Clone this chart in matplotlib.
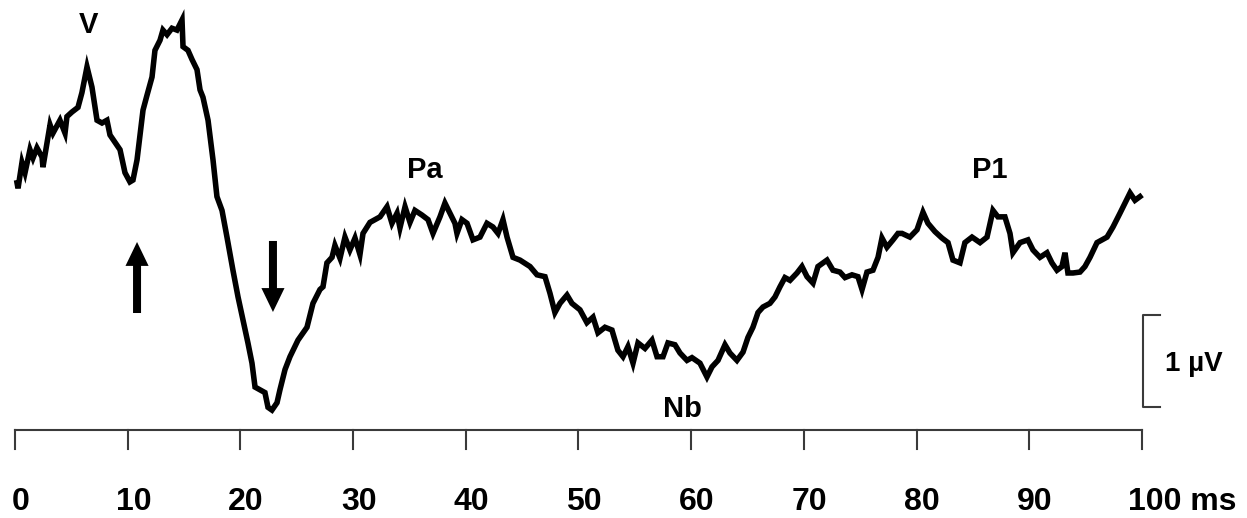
import numpy as np
import matplotlib
matplotlib.use("Agg")
import matplotlib.pyplot as plt
from matplotlib.patches import FancyArrow

plt.rcParams['font.family'] = ['Liberation Sans', 'DejaVu Sans']
plt.rcParams['font.weight'] = 'bold'

# evoked response, latency (ms) vs amplitude (uV)
time_ms = [
    0.18, 0.27, 0.62, 0.89, 1.33, 1.60, 1.95, 2.40, 2.48, 2.84, 3.11, 3.37, 3.99, 4.44, 4.61,
    5.06, 5.59, 5.94, 6.39, 6.83, 7.28, 7.72, 8.16, 8.43, 8.87, 9.32, 9.76, 10.20, 10.47, 10.83,
    11.36, 11.71, 12.16, 12.42, 12.87, 13.13, 13.49, 13.93, 14.37, 14.82, 14.91, 15.35, 15.71,
    16.15, 16.42, 16.68, 17.13, 17.57, 17.92, 18.37, 18.81, 19.34, 19.79, 20.23, 20.67, 21.03,
    21.30, 21.74, 22.18, 22.45, 22.80, 23.25, 23.51, 23.96, 24.40, 25.11, 25.91, 26.44, 27.06,
    27.33, 27.68, 28.13, 28.39, 28.84, 29.28, 29.72, 30.17, 30.61, 30.88, 31.50, 32.39, 33.01,
    33.45, 33.90, 34.16, 34.61, 35.05, 35.49, 36.11, 36.65, 37.09, 37.71, 38.15, 38.60, 39.04,
    39.22, 39.66, 40.11, 40.64, 41.26, 41.88, 42.41, 42.86, 43.30, 43.66, 44.19, 44.81, 45.70,
    46.32, 47.03, 47.47, 47.91, 48.36, 48.98, 49.42, 50.13, 50.75, 51.29, 51.73, 52.35, 52.97,
    53.50, 53.95, 54.39, 54.84, 55.28, 55.90, 56.52, 56.97, 57.50, 57.94, 58.56, 59.01, 59.63,
    60.07, 60.78, 61.40, 61.85, 62.38, 63.00, 63.44, 64.06, 64.60, 65.04, 65.48, 65.93, 66.37,
    66.99, 67.44, 67.88, 68.32, 68.77, 69.39, 69.83, 70.28, 70.81, 71.25, 72.05, 72.58, 73.20,
    73.65, 74.27, 74.80, 75.16, 75.60, 76.13, 76.58, 76.93, 77.37, 77.91, 78.35, 78.71, 79.41,
    80.04, 80.57, 81.01, 81.63, 82.25, 82.79, 83.23, 83.85, 84.29, 84.92, 85.63, 86.25, 86.78,
    87.22, 87.84, 88.29, 88.55, 89.18, 89.88, 90.33, 90.95, 91.57, 92.01, 92.46, 92.90, 93.17,
    93.43, 93.88, 94.50, 94.94, 95.39, 96.01, 96.90, 97.43, 98.05, 98.49, 98.94, 99.38, 99.82,
]
amp_uv = [
    0.73, 0.67, 0.95, 0.84, 1.09, 1.00, 1.11, 1.01, 0.90, 1.16, 1.36, 1.27, 1.41, 1.27, 1.45,
    1.50, 1.55, 1.71, 1.99, 1.77, 1.41, 1.38, 1.41, 1.25, 1.17, 1.09, 0.84, 0.74, 0.76, 0.98,
    1.52, 1.68, 1.88, 2.17, 2.28, 2.39, 2.34, 2.41, 2.39, 2.50, 2.21, 2.17, 2.07,
    1.96, 1.74, 1.66, 1.41, 0.98, 0.58, 0.43, 0.14, -0.22, -0.51, -0.76, -1.01, -1.23,
    -1.49, -1.52, -1.55, -1.71, -1.74, -1.66, -1.52, -1.30, -1.16, -0.98, -0.84, -0.58, -0.43,
    -0.40, -0.14, -0.08, 0.05, -0.09, 0.14, 0.00, 0.13, -0.05, 0.18, 0.30, 0.36, 0.47,
    0.29, 0.40, 0.24, 0.47, 0.30, 0.43, 0.38, 0.33, 0.18, 0.36, 0.51, 0.40, 0.29,
    0.18, 0.33, 0.29, 0.11, 0.14, 0.29, 0.25, 0.18, 0.33, 0.14, -0.08, -0.11, -0.18,
    -0.27, -0.29, -0.47, -0.68, -0.58, -0.49, -0.58, -0.65, -0.79, -0.73, -0.90, -0.84, -0.87,
    -1.09, -1.16, -1.05, -1.23, -1.01, -1.07, -0.98, -1.16, -1.16, -1.01, -1.03, -1.12, -1.20,
    -1.17, -1.23, -1.38, -1.27, -1.20, -1.03, -1.12, -1.20, -1.11, -0.95, -0.84, -0.68, -0.62,
    -0.58, -0.51, -0.40, -0.30, -0.33, -0.25, -0.18, -0.29, -0.36, -0.18, -0.11, -0.22, -0.24,
    -0.30, -0.27, -0.29, -0.43, -0.24, -0.22, -0.08, 0.13, 0.03, 0.11, 0.18, 0.18, 0.14,
    0.22, 0.41, 0.29, 0.20, 0.13, 0.08, -0.11, -0.14, 0.08, 0.14, 0.08, 0.14, 0.43,
    0.36, 0.36, 0.18, -0.03, 0.08, 0.11, 0.00, -0.08, -0.03, -0.14, -0.22, -0.18, -0.03,
    -0.25, -0.25, -0.24, -0.18, -0.08, 0.08, 0.14, 0.25, 0.40, 0.51, 0.62, 0.54, 0.58,
]

tick_ms = [0, 10, 20, 30, 40, 50, 60, 70, 80, 90, 100]
tick_labels = ['0', '10', '20', '30', '40', '50', '60', '70', '80', '90', '100 ms']

# peak names and where they sit (ms, uV baseline)
peak_names = ['V', 'Pa', 'Nb', 'P1']
peak_x = [6.5, 36.4, 59.2, 86.5]
peak_y = [2.36, 0.78, -1.82, 0.78]

axis_y = -1.96      # level of the time axis
tick_len = 0.20
label_y = -2.83     # baseline of the time labels
grey = '#3a3a3a'

fig = plt.figure(figsize=(12.47, 5.18), dpi=100)
ax = fig.add_axes([0, 0, 1, 1])
ax.set_xlim(-1.33, 109.32)
ax.set_ylim(-2.913, 2.717)
ax.axis('off')

ax.plot(time_ms, amp_uv, color='black', lw=4.0, solid_joinstyle='miter')

# time axis with ticks
ax.plot([tick_ms[0], tick_ms[-1]], [axis_y, axis_y], color=grey, lw=1.5)
for t, lab in zip(tick_ms, tick_labels):
    ax.plot([t, t], [axis_y, axis_y - tick_len], color=grey, lw=1.5)
    if lab.endswith('ms'):
        ax.text(t - 1.2, label_y, lab, ha='left', va='baseline', fontsize=23, fontweight='bold')
    else:
        ax.text(t + 0.5, label_y, lab, ha='center', va='baseline', fontsize=23, fontweight='bold')

# 1 uV calibration bar
bar_x, bar_top, bar_bot = 100.1, -0.707, -1.707
ax.plot([bar_x + 1.5, bar_x, bar_x, bar_x + 1.5], [bar_top, bar_top, bar_bot, bar_bot],
        color=grey, lw=1.5)
ax.text(102.0, -1.315, '1 µV', ha='left', va='baseline', fontsize=20, fontweight='bold')

for name, x, y in zip(peak_names, peak_x, peak_y):
    ax.text(x, y, name, ha='center', va='baseline', fontsize=21, fontweight='bold')

# up and down arrows
ax.add_patch(FancyArrow(10.83, -0.685, 0, 0.772, width=0.71, head_width=2.05,
                        head_length=0.26, length_includes_head=True, color='black', lw=0))
ax.add_patch(FancyArrow(22.89, 0.098, 0, -0.772, width=0.71, head_width=2.05,
                        head_length=0.26, length_includes_head=True, color='black', lw=0))

fig.savefig('out.png', dpi=100)
